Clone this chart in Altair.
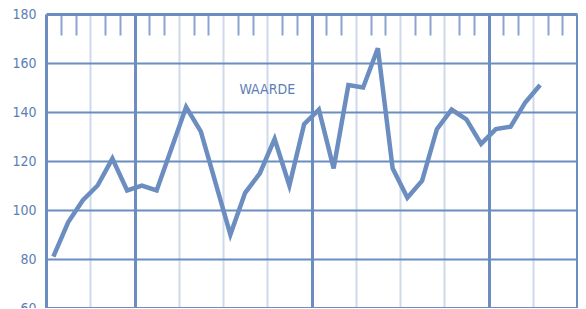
import altair as alt
import pandas as pd

# month index (1..34) and the plotted values
maand = list(range(1, 35))
waarde = [81, 95, 104, 110, 121, 108, 110, 108, 125, 142, 132, 111, 90, 107,
          115, 129, 110, 135, 141, 117, 151, 150, 166, 117, 105, 112, 133, 141,
          137, 127, 133, 134, 144, 151]

y_ticks = [60, 80, 100, 120, 140, 160, 180]
x_grid = list(range(0, 37, 3))
x_minor = [i for i in range(37) if i % 3 != 0]

label_text = ["WAARDE"]
label_x = [15]
label_y = [149]

BLUE = "#6b8dc0"
PALE = "#cfdaea"
LABEL = "#5b7eb6"
FONT = "'DejaVu Sans Condensed', 'DejaVu Sans', sans-serif"

df = pd.DataFrame({"maand": maand, "waarde": waarde})
lab = pd.DataFrame({"t": label_text, "x": label_x, "y": label_y})

xscale = alt.Scale(domain=[0, 36], nice=False, zero=False)
yscale = alt.Scale(domain=[60, 180], nice=False, zero=False)

thick_x = "datum.value % 12 == 6 || datum.value == 0 || datum.value == 36"
thick_y = "datum.value == 60 || datum.value == 180"

y_axis = alt.Axis(values=y_ticks, grid=True, ticks=False, domain=False,
                  title=None, labelFont=FONT, labelFontSize=14,
                  labelColor=LABEL, labelPadding=10,
                  gridColor=BLUE,
                  gridWidth={"condition": {"test": thick_y, "value": 3}, "value": 2},
                  gridOpacity=1)

line = alt.Chart(df).transform_calculate(
    pos="datum.maand - 0.5"
).mark_line(color=BLUE, strokeWidth=4.5).encode(
    x=alt.X("pos:Q", scale=xscale,
            axis=alt.Axis(values=x_grid, grid=True, labels=False, ticks=False,
                          domain=False, title=None,
                          gridColor={"condition": {"test": thick_x, "value": BLUE}, "value": PALE},
                          gridWidth={"condition": {"test": thick_x, "value": 3}, "value": 2},
                          gridOpacity=1)),
    y=alt.Y("waarde:Q", scale=yscale, axis=y_axis),
)

text = alt.Chart(lab).mark_text(font=FONT, fontSize=14, color=LABEL,
                                baseline="middle", align="center").encode(
    x=alt.X("x:Q", scale=xscale,
            axis=alt.Axis(orient="top", values=x_minor, grid=False, labels=False,
                          domain=False, ticks=True, tickSize=21, offset=-21,
                          tickColor=BLUE, tickWidth=2, tickOpacity=0.8, title=None)),
    y=alt.Y("y:Q", scale=yscale, axis=y_axis),
    text="t:N",
)

chart = alt.layer(line, text).resolve_axis(x="independent").properties(
    width=531, height=294,
    autosize=alt.AutoSizeParams(type="none"),
    padding={"left": 38, "top": 6, "right": 1, "bottom": 0},
    background="white",
).configure_view(stroke=None)

chart.save("out.html", embed_options={"renderer": "svg", "actions": False})
